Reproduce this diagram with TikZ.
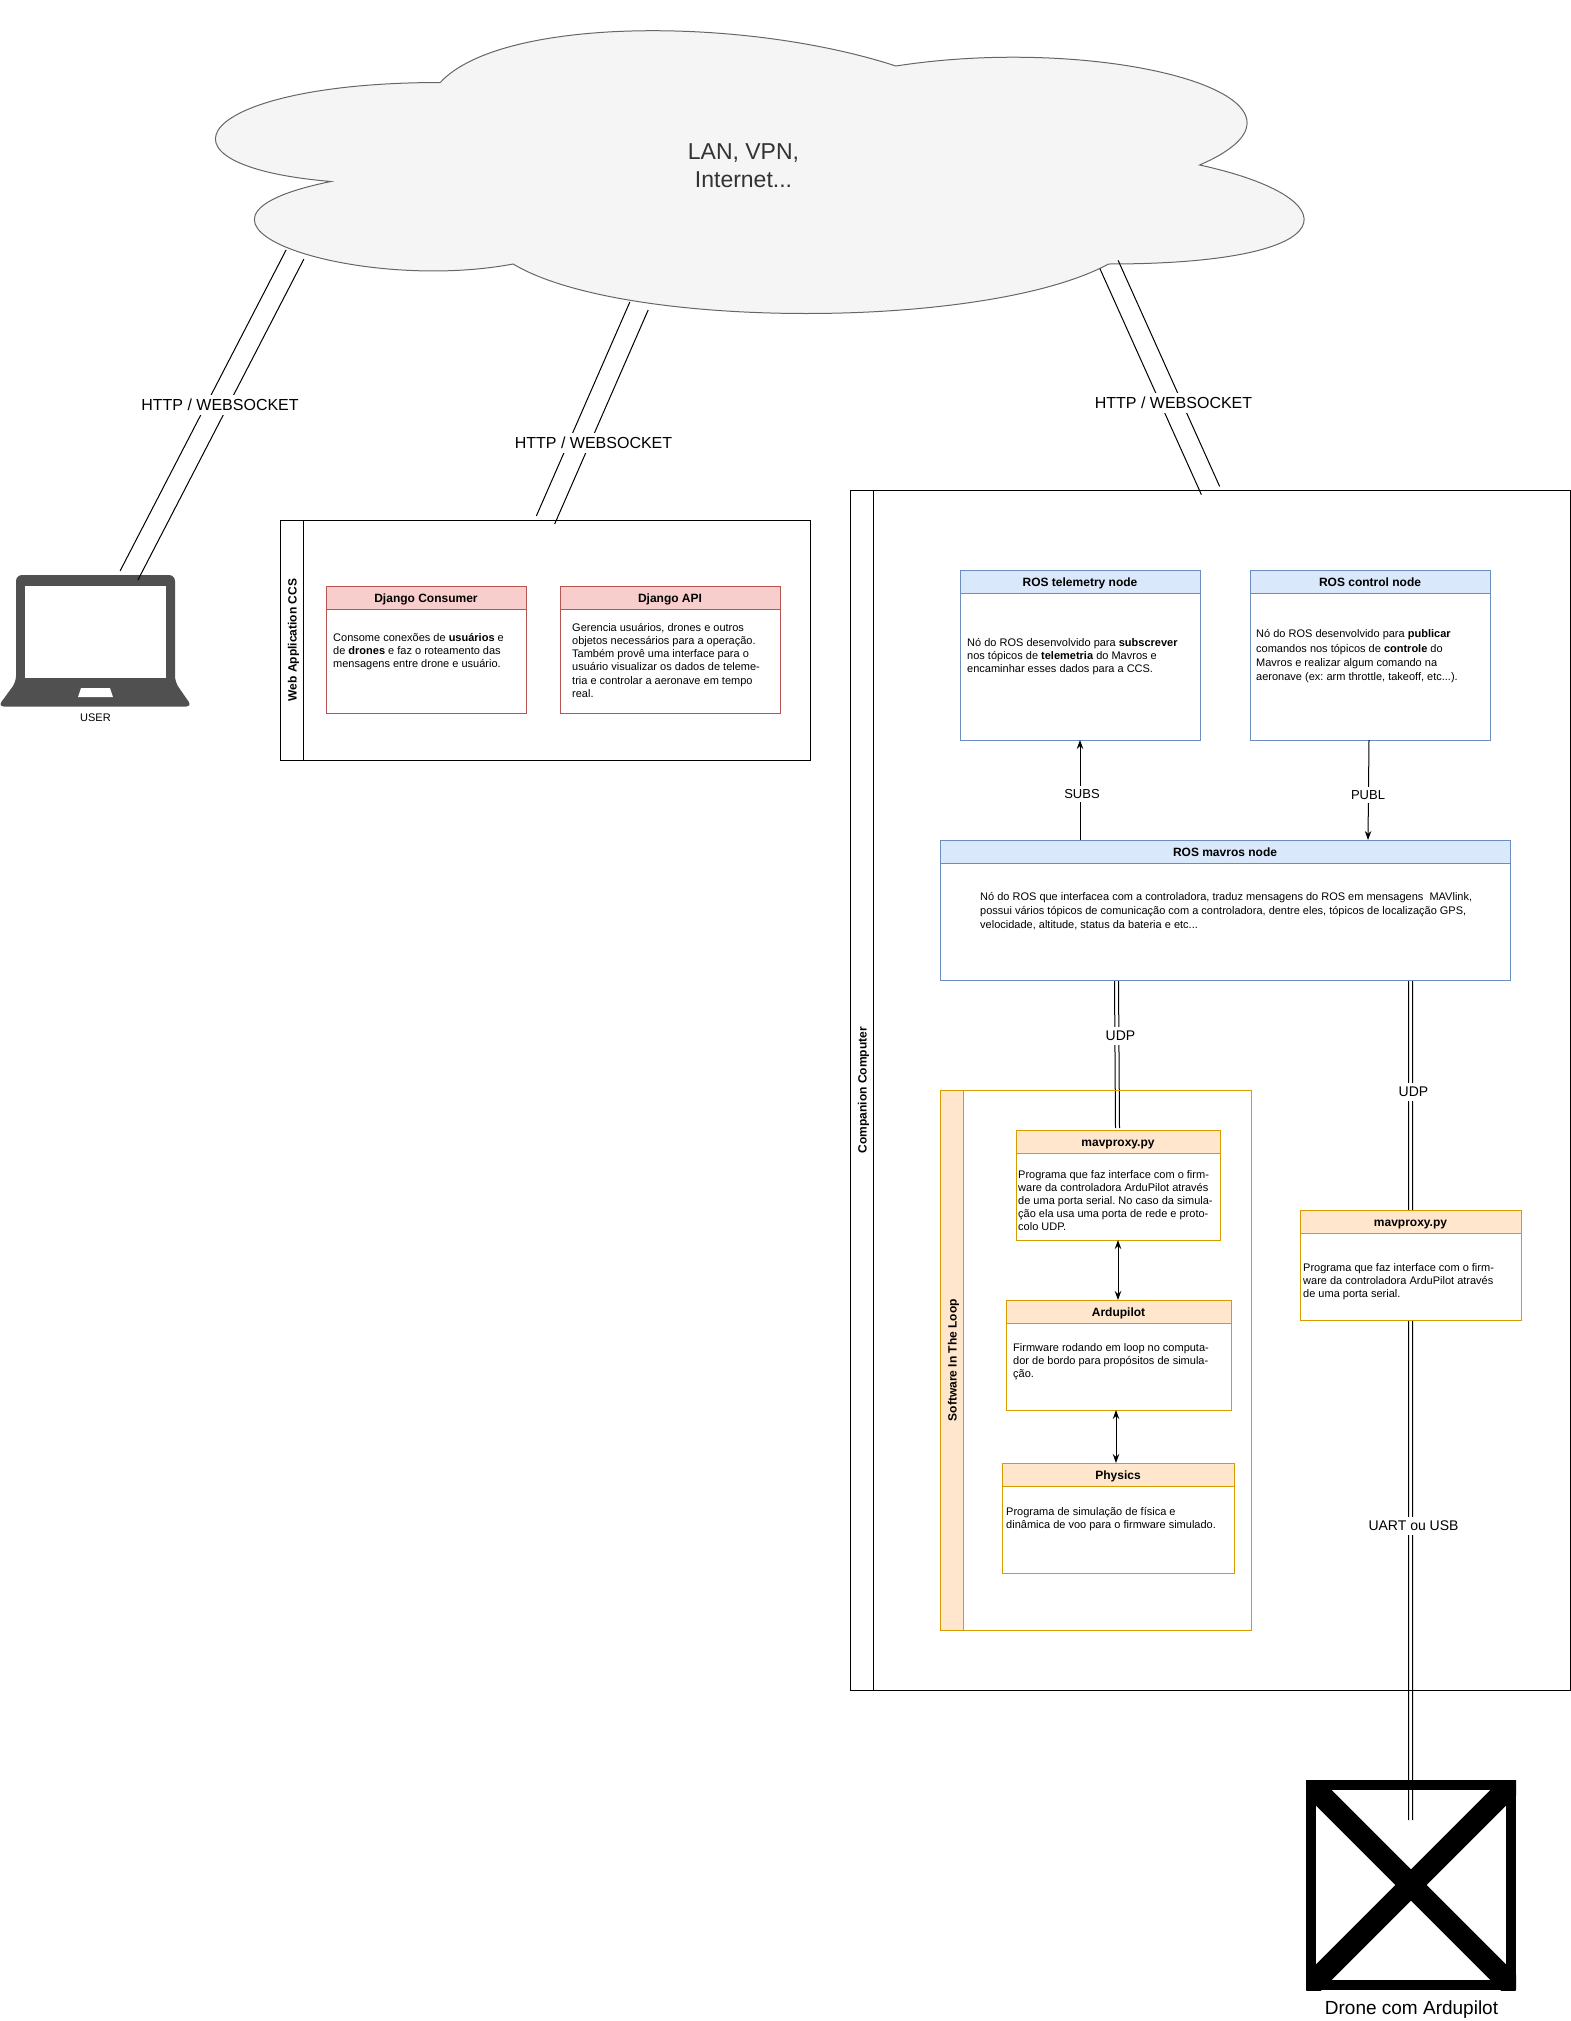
\documentclass[tikz,border=0pt]{standalone}
\usepackage{fontspec}
\usetikzlibrary{arrows.meta, calc}
\setmainfont{Liberation Sans}
\definecolor{cloudfill}{HTML}{F5F5F5}
\definecolor{cloudline}{HTML}{666666}
\definecolor{cloudtext}{HTML}{333333}
\definecolor{laptopgrey}{HTML}{505050}
\definecolor{rosfill}{HTML}{DAE8FC}
\definecolor{rosline}{HTML}{6C8EBF}
\definecolor{webfill}{HTML}{F8CECC}
\definecolor{webline}{HTML}{B85450}
\definecolor{sitlfill}{HTML}{FFE6CC}
\definecolor{sitlline}{HTML}{D79B00}
\definecolor{plainfill}{HTML}{FFFFFF}
\definecolor{plainline}{HTML}{000000}
\tikzset{
	procbox/.style={draw=#1line, fill=white, line width=1pt, anchor=north west, inner sep=0pt, outer sep=0pt},
	proctitle/.style={draw=#1line, fill=#1fill, line width=1pt, anchor=north, inner sep=0pt, outer sep=0pt, minimum height=23pt, text height=10pt, text depth=0pt, font=\fontsize{12}{14}\selectfont\bfseries},
	lanebox/.style={draw=#1line, line width=1pt, anchor=north west, inner sep=0pt, outer sep=0pt},
	lanetitle/.style={draw=#1line, fill=#1fill, line width=1pt, rotate=90, anchor=north, inner sep=0pt, outer sep=0pt, minimum height=23pt, text height=10pt, text depth=0pt, font=\fontsize{12}{14}\selectfont\bfseries},
	bodytext/.style={anchor=north west, inner sep=0pt, align=left, font=\fontsize{11}{13.2}\selectfont\frenchspacing, execute at begin node=\strut},
	widebody/.style={bodytext, font=\fontsize{11}{14.2}\selectfont\frenchspacing},
	linklabel/.style={fill=white, inner sep=0pt, minimum height=#1},
	linkline/.style={line width=1pt},
	flow/.style={line width=1pt, -{Stealth[length=9pt, width=6.5pt]}},
	twoway/.style={line width=1pt, {Stealth[length=9pt, width=6.5pt]}-{Stealth[length=9pt, width=6.5pt]}}
}
\begin{document}
\begin{tikzpicture}[x=1pt, y=-1pt]
	\useasboundingbox (0, 0) rectangle (1571, 2021);

	% cloud
	\begin{scope}[shift={(136.5, 0)}, x=12.15pt, y=-3.3pt]
		\filldraw[fill=cloudfill, draw=cloudline, line width=1pt] (25, 25)
			.. controls (5, 25) and (0, 50) .. (16, 55)
			.. controls (0, 67) and (18, 89) .. (31, 80)
			.. controls (40, 100) and (70, 100) .. (80, 80)
			.. controls (100, 80) and (100, 60) .. (87.5, 50)
			.. controls (100, 30) and (80, 10) .. (62.5, 20)
			.. controls (50, 5) and (30, 5) .. (25, 25) -- cycle;
	\end{scope}
	\node[align=center, text=cloudtext, font=\fontsize{23}{28}\selectfont] (cloudname) at (743.5, 165.5) {LAN, VPN,\\Internet...};

	% laptop
	\fill[laptopgrey, rounded corners=6pt] (16, 575) -- (175, 575) -- (175, 682) -- (192, 706.5) -- (-2, 706.5) -- (16, 682) -- cycle;
	\fill[white] (25, 586) rectangle (166, 678);
	\fill[white] (81, 688) -- (110, 688) -- (113, 697) -- (78, 697) -- cycle;
	\node[font=\fontsize{11}{13}\selectfont] (user) at (95.5, 718) {USER};

	% drone
	\node[draw, line width=10pt, inner sep=0pt, outer sep=5pt, minimum width=200pt, minimum height=200pt] (drone) at (1411, 1885) {};
	\begin{scope}
		\clip (drone.north west) rectangle (drone.south east);
		\draw[line width=22pt] (drone.north west) -- (drone.south east);
		\draw[line width=22pt] (drone.north east) -- (drone.south west);
	\end{scope}
	\node[font=\fontsize{19}{23}\selectfont] (dronename) at (1411.5, 2010) {Drone com Ardupilot};

	% ends of the links
	\coordinate (userlink) at (129, 575.5);
	\coordinate (cloudleft) at (295, 254.5);
	\coordinate (weblink) at (545.5, 520);
	\coordinate (cloudmid) at (639, 306);
	\coordinate (companionlink) at (1210.5, 490.5);
	\coordinate (cloudright) at (1109, 264.5);
	\coordinate (mavrosleft) at (1116.5, 980);
	\coordinate (sitllink) at (1117.5, 1128);
	\coordinate (mavrosright) at (1410.5, 980);
	\coordinate (dronelink) at (1410.7, 1820);

	\foreach \from/\to/\gap in {userlink/cloudleft/10, weblink/cloudmid/10, companionlink/cloudright/10, mavrosleft/sitllink/2, mavrosright/dronelink/2}
	{
		\draw[linkline] ($(\from)!\gap pt!90:(\to)$) -- ($(\to)!\gap pt!-90:(\from)$);
		\draw[linkline] ($(\from)!\gap pt!-90:(\to)$) -- ($(\to)!\gap pt!90:(\from)$);
	}

	% containers
	\foreach \lane/\x/\y/\w/\h/\hue/\title in {web/280/520/530/240/plain/Web Application CCS, companion/850/490/720/1200/plain/Companion Computer, sitl/940/1090/311/540/sitl/Software In The Loop}
	{
		\node[lanebox=\hue, minimum width=\w pt, minimum height=\h pt] (\lane) at (\x, \y) {};
		\node[lanetitle=\hue, minimum width=\h pt] (\lane title) at (\lane.west) {\title};
	}

	% boxes
	\foreach \boxname/\x/\y/\w/\h/\hue/\title in {consumer/326/586/200/127/web/Django Consumer, api/560/586/220/127/web/Django API, telemetry/960/570/240/170/ros/ROS telemetry node, control/1250/570/240/170/ros/ROS control node, mavros/940/840/570/140/ros/ROS mavros node, mavproxysim/1016/1130/204/110/sitl/mavproxy.py, ardupilot/1006/1300/225/110/sitl/Ardupilot, physics/1002/1463/232/110/sitl/Physics, mavproxyfc/1300/1210/221/110/sitl/mavproxy.py}
	{
		\node[procbox=\hue, minimum width=\w pt, minimum height=\h pt] (\boxname) at (\x, \y) {};
		\node[proctitle=\hue, minimum width=\w pt] (\boxname title) at (\boxname.north) {\title};
	}

	\node[bodytext] (consumertext) at (333, 633) {Consome conexões de \textbf{usuários} e\\de \textbf{drones} e faz o roteamento das\\mensagens entre drone e usuário.};
	\node[bodytext] (apitext) at (572, 623) {Gerencia usuários, drones e outros\\objetos necessários para a operação.\\Também provê uma interface para o\\usuário visualizar os dados de teleme-\\tria e controlar a aeronave em tempo\\real.};
	\node[bodytext] (telemetrytext) at (967, 638) {Nó do ROS desenvolvido para \textbf{subscrever}\\nos tópicos de \textbf{telemetria} do Mavros e\\encaminhar esses dados para a CCS.};
	\node[widebody] (controltext) at (1256, 629.5) {Nó do ROS desenvolvido para \textbf{publicar}\\comandos nos tópicos de \textbf{controle} do\\Mavros e realizar algum comando na\\aeronave (ex: arm throttle, takeoff, etc...).};
	\node[widebody] (mavrostext) at (980, 892) {Nó do ROS que interfacea com a controladora, traduz mensagens do ROS em mensagens\ \ MAVlink,\\possui vários tópicos de comunicação com a controladora, dentre eles, tópicos de localização GPS,\\velocidade, altitude, status da bateria e etc...};
	\node[bodytext] (mavproxysimtext) at (1018, 1170) {Programa que faz interface com o firm-\\ware da controladora ArduPilot através\\de uma porta serial. No caso da simula-\\ção ela usa uma porta de rede e proto-\\colo UDP.};
	\node[bodytext] (ardupilottext) at (1013, 1343) {Firmware rodando em loop no computa-\\dor de bordo para propósitos de simula-\\ção.};
	\node[bodytext] (physicstext) at (1006, 1507) {Programa de simulação de física e\\dinâmica de voo para o firmware simulado.};
	\node[bodytext] (mavproxyfctext) at (1303, 1263) {Programa que faz interface com o firm-\\ware da controladora ArduPilot através\\de uma porta serial.};

	% arrows
	\draw[flow] (mavros.north -| telemetry.south) -- (telemetry.south);
	\draw[flow] ([xshift=-1pt]control.south) -- ([xshift=-2pt]control.south |- mavros.north);
	\draw[twoway] (mavproxysim.south) -- (mavproxysim.south |- ardupilot.north);
	\draw[twoway] ([xshift=-2pt]physics.north |- ardupilot.south) -- ([xshift=-2pt]physics.north);

	% labels
	\node[linklabel=20pt, font=\fontsize{16}{18}\selectfont] (httpuser) at (220, 404.5) {HTTP / WEBSOCKET};
	\node[linklabel=20pt, font=\fontsize{16}{18}\selectfont] (httpweb) at (593.5, 442.5) {HTTP / WEBSOCKET};
	\node[linklabel=20pt, font=\fontsize{16}{18}\selectfont] (httpcompanion) at (1173.5, 402.5) {HTTP / WEBSOCKET};
	\node[linklabel=16pt, font=\fontsize{13}{15}\selectfont] (subs) at (1082, 794) {SUBS};
	\node[linklabel=16pt, font=\fontsize{13}{15}\selectfont] (publ) at (1368, 795) {PUBL};
	\node[linklabel=18pt, font=\fontsize{14}{16}\selectfont] (udpsim) at (1120.5, 1035.5) {UDP};
	\node[linklabel=18pt, font=\fontsize{14}{16}\selectfont] (udpfc) at (1413.5, 1091.5) {UDP};
	\node[linklabel=18pt, font=\fontsize{14}{16}\selectfont] (uart) at (1413.5, 1525.5) {UART ou USB};
\end{tikzpicture}
\end{document}
